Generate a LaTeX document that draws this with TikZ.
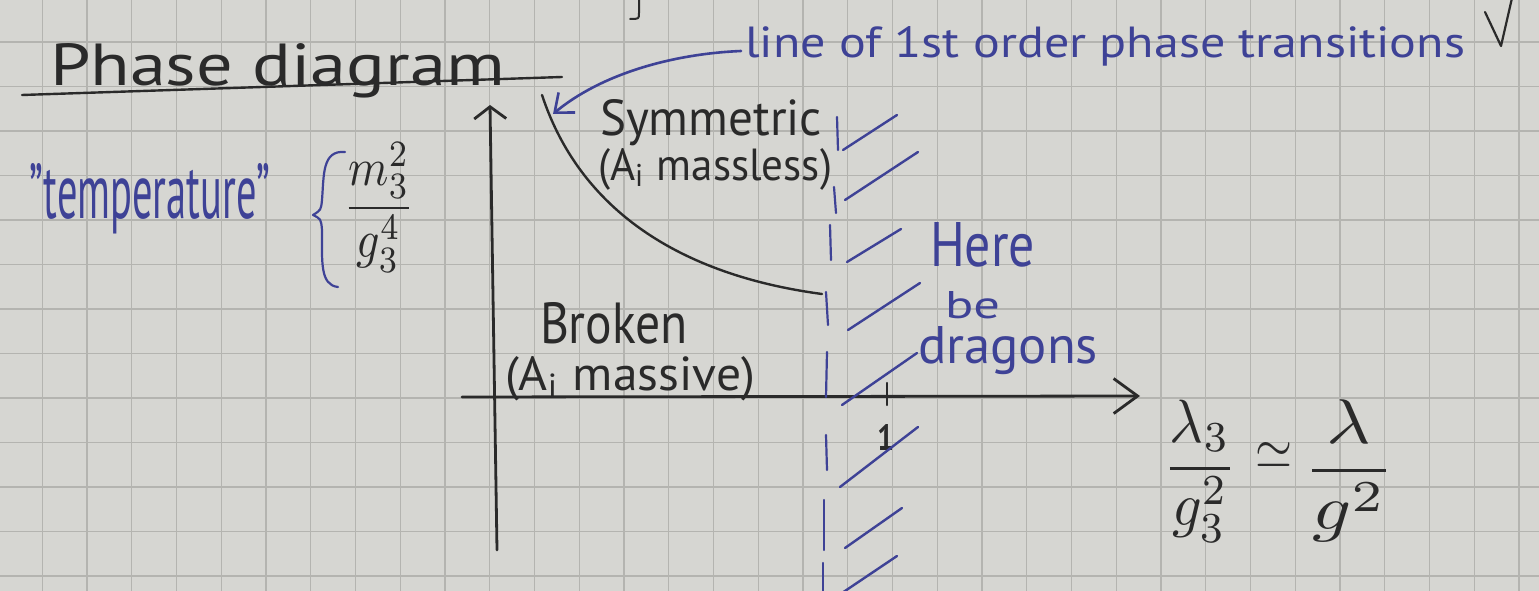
\documentclass[tikz,border=0pt]{standalone}
\usepackage{fontspec}
\setmainfont{PT Sans}
\usepackage{graphicx}
\usetikzlibrary{arrows.meta}

\definecolor{paper}{RGB}{214,214,210}
\definecolor{gridline}{RGB}{180,180,176}
\definecolor{ink}{RGB}{42,42,42}
\definecolor{bluink}{RGB}{62,66,150}

% squeeze a piece of text into a given width and height above the baseline (in pt)
\newcommand{\fitto}[3]{\resizebox{#1pt}{#2pt}{#3}}
% same, with the total height (for stacked fractions)
\newcommand{\fitall}[3]{\resizebox*{#1pt}{#2pt}{#3}}

\begin{document}
\begin{tikzpicture}[x=1pt,y=-1pt,
  txt/.style={anchor=base west,inner sep=0pt,outer sep=0pt},
  frac/.style={anchor=north west,inner sep=0pt,outer sep=0pt},
  black ink/.style={draw=ink,line width=2.8pt,line cap=round,line join=round},
  blue ink/.style={draw=bluink,line width=2.6pt,line cap=round,line join=round},
  gridrule/.style={draw=gridline,line width=1.3pt}]

\useasboundingbox (0,0) rectangle (1539,591);
\fill[paper] (0,0) rectangle (1539,591);
\begin{scope}
\clip (0,0) rectangle (1539,591);
% squared paper
\foreach \k in {1,...,34} \draw[gridrule] ({44.75*\k-2.5},0) -- ++(0,591);
\foreach \j in {1,...,13} \draw[gridrule] (0,{44.5*\j-2.5}) -- ++(1539,0);
% tail of a letter from the line above
\draw[black ink,line width=2pt] (639,-2) -- (639,13) .. controls (639,19) .. (630,19);
\end{scope}

% title
\node[txt,text=ink] (title) at (50,86) {\fitto{455}{42}{Phase diagram}};
\coordinate (uL) at (22,95);
\coordinate (uR) at (562,77);
\draw[black ink,line width=2.4pt] (uL) -- (uR);

% vertical axis label
\node[txt,text=bluink] (temp) at (30,218) {\fitto{240}{55}{"temperature"}};
\draw[blue ink,line width=2.2pt] (345,152) .. controls (322,150) and (324,175) .. (322,200)
  .. controls (321,210) .. (313,215) .. controls (321,219) .. (322,230)
  .. controls (322,262) and (320,285) .. (338,287);
\node[frac,text=ink] (tfrac) at (343,142) {\fitall{72}{130}{$\displaystyle\frac{m_3^2}{g_3^4}$}};

% axes
\coordinate (yb) at (497,550);
\coordinate (yt) at (490,105);
\draw[black ink,-{Straight Barb[length=12pt,width=32pt]}] (yb) -- (yt);
\coordinate (xl) at (462,397);
\coordinate (xr) at (1140,396);
\draw[black ink,-{Straight Barb[length=24pt,width=35pt]}] (xl) -- (xr);
\draw[black ink,line width=2.2pt] (887,383) -- (887,405);
\node[txt,text=ink] (one) at (877,450) {\fitto{17}{26}{\bfseries 1}};

% line of first order transitions
\coordinate (cTop) at (542,95);
\coordinate (cEnd) at (822,294);
\draw[black ink,line width=2.4pt] (cTop) .. controls (580,210) and (680,275) .. (cEnd);

% region labels
\node[txt,text=ink] (sym) at (600,136) {\fitto{222}{36}{Symmetric}};
\node[txt,text=ink] (symsub) at (598,180) {\fitto{234}{32}{(A\textsubscript{i} massless)}};
\node[txt,text=ink] (brk) at (540,343) {\fitto{148}{41}{Broken}};
\node[txt,text=ink] (brksub) at (505,390) {\fitto{250}{34}{(A\textsubscript{i} massive)}};

% annotation with arrow
\node[txt,text=bluink] (lbl) at (745,58) {\fitto{720}{31}{line of 1st order phase transitions}};
\coordinate (tip) at (553,114);
\draw[blue ink,-{Straight Barb[length=16pt,width=26pt]}] (741,51) .. controls (670,54) and (600,75) .. (tip);
\draw[black ink,line width=2.2pt] (1485,12) -- (1501,46) -- (1512,-2);

% boundary of the unknown region: dashes and hatching
\foreach \xa/\ya/\xb/\yb in {837/117/838/150, 834/187/836/213, 830/225/831/260, 826/292/828/325,
  827/352/826/397, 826/435/827/470, 824/500/824/550, 823/563/823/595}
  \draw[blue ink,line width=2.2pt] (\xa,\ya) -- (\xb,\yb);
\foreach \xa/\ya/\xb/\yb in {843/150/897/115, 845/200/918/152, 847/262/901/229, 848/330/920/283,
  842/405/917/353, 840/487/918/427, 845/548/902/508, 842/593/897/556}
  \draw[blue ink,line width=2.4pt] (\xa,\ya) -- (\xb,\yb);

\node[txt,text=bluink] (here) at (930,266) {\fitto{105}{44}{Here}};
\node[txt,text=bluink] (be) at (945,318) {\fitto{55}{27}{be}};
\node[txt,text=bluink] (drag) at (918,363) {\fitto{180}{37}{dragons}};

% horizontal axis label
\node[frac,text=ink] (lhs) at (1163,400) {\fitall{74}{142}{$\displaystyle\frac{\lambda_3}{g_3^2}$}};
\node[frac,text=ink] (sim) at (1255,442) {\fitall{37}{26}{$\simeq$}};
\node[frac,text=ink] (rhs) at (1303,400) {\fitall{92}{142}{$\displaystyle\frac{\lambda}{g^2}$}};
\end{tikzpicture}
\end{document}
